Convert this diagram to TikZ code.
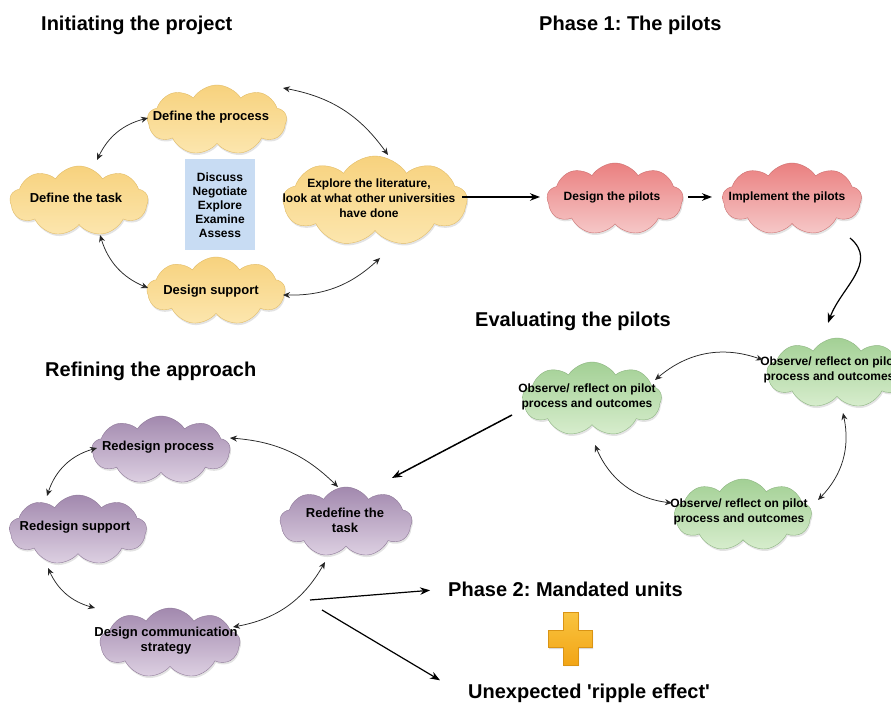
\documentclass[tikz,border=0pt]{standalone}
\usepackage{fontspec}
\setmainfont{Liberation Sans}
\frenchspacing
\usetikzlibrary{shapes.symbols,shadows,arrows.meta}
\definecolor{yeltop}{HTML}{F7D27E}
\definecolor{yelbot}{HTML}{FCE6AE}
\definecolor{yeledge}{HTML}{E2BC66}
\definecolor{redtop}{HTML}{EA8080}
\definecolor{redbot}{HTML}{F6C8C8}
\definecolor{rededge}{HTML}{CC7070}
\definecolor{grntop}{HTML}{A3D095}
\definecolor{grnbot}{HTML}{D7EDCD}
\definecolor{grnedge}{HTML}{8CB480}
\definecolor{purtop}{HTML}{A289AE}
\definecolor{purbot}{HTML}{DDD0E2}
\definecolor{puredge}{HTML}{8E7898}
\definecolor{boxfill}{HTML}{C8DCF3}
\definecolor{plustop}{HTML}{F9C440}
\definecolor{plusbot}{HTML}{F2A516}
\begin{document}
\begin{tikzpicture}[x=1pt,y=1pt,
  cl/.style={cloud, cloud puffs=9, cloud puff arc=115, cloud ignores aspect,
    inner sep=0pt, draw=#1edge, line width=0.4pt, top color=#1top, bottom color=#1bot,
    drop shadow={opacity=0.22, shadow xshift=1pt, shadow yshift=-2pt}},
  ctext/.style={font=\bfseries\fontsize{13}{15}\selectfont, align=center, inner sep=0pt},
  stext/.style={font=\bfseries\fontsize{12}{15}\selectfont, align=center, inner sep=0pt},
  ttl/.style={font=\bfseries\fontsize{20}{24}\selectfont, anchor=base west, inner sep=0pt},
  dbl/.style={{Stealth[length=7pt,width=6pt]}-{Stealth[length=7pt,width=6pt]}, line width=0.75pt, black!85},
  flow/.style={-{Stealth[length=10pt,width=7.5pt]}, line width=1.5pt}]
\useasboundingbox (0,0) rectangle (891,707);
\fill[white] (0,0) rectangle (891,707);

% titles
\node[ttl] (t1) at (41,676) {Initiating the project};
\node[ttl] (t2) at (539,676) {Phase 1: The pilots};
\node[ttl] (t3) at (475,380) {Evaluating the pilots};
\node[ttl] (t4) at (45,330) {Refining the approach};
\node[ttl] (t5) at (448,111) {Phase 2: Mandated units};
\node[ttl] (t6) at (468,9) {Unexpected \textquotesingle ripple effect\textquotesingle};

% initiating
\node[cl=yel, minimum width=139pt, minimum height=70pt,
  label={[ctext,xshift=-6pt,yshift=3pt]center:Define the process}] (dp) at (217,587) {};
\node[cl=yel, minimum width=138pt, minimum height=70pt,
  label={[ctext,xshift=-3pt,yshift=3pt]center:Define the task}] (dt) at (79,506) {};
\node[fill=boxfill, minimum width=70pt, minimum height=91pt, stext,
  font=\bfseries\fontsize{12}{14}\selectfont] (bx) at (220,502) {Discuss\\Negotiate\\Explore\\Examine\\Assess};
\node[cl=yel, minimum width=184pt, minimum height=90pt,
  label={[stext,xshift=-6pt,yshift=3pt]center:{Explore the literature,\\look at what other universities\\have done}}] (ex) at (375,506) {};
\node[cl=yel, minimum width=138pt, minimum height=68pt,
  label={[ctext,xshift=-5pt,yshift=0pt]center:Design support}] (ds) at (216,416) {};

% phase 1
\node[cl=red, minimum width=136pt, minimum height=72pt,
  label={[stext,xshift=-3pt,yshift=2pt]center:Design the pilots}] (dpi) at (615,508) {};
\node[cl=red, minimum width=139pt, minimum height=72pt,
  label={[stext,xshift=-5pt,yshift=2pt]center:Implement the pilots}] (ip) at (792,508) {};

% evaluating
\node[cl=grn, minimum width=139pt, minimum height=74pt,
  label={[stext,xshift=-5pt,yshift=2pt]center:{Observe/ reflect on pilot\\process and outcomes}}] (g1) at (592,308) {};
\node[cl=grn, minimum width=140pt, minimum height=70pt,
  label={[stext,xshift=-8pt,yshift=3pt]center:{Observe/ reflect on pilot\\process and outcomes}}] (g2) at (837,334) {};
\node[cl=grn, minimum width=137pt, minimum height=72pt,
  label={[stext,xshift=-4pt,yshift=3pt]center:{Observe/ reflect on pilot\\process and outcomes}}] (g3) at (743,192) {};

% refining
\node[cl=pur, minimum width=138pt, minimum height=68pt,
  label={[ctext,xshift=-3pt,yshift=3pt]center:Redesign process}] (rp) at (161,257) {};
\node[cl=pur, minimum width=137pt, minimum height=70pt,
  label={[ctext,xshift=-3pt,yshift=3pt]center:Redesign support}] (rs) at (78,177) {};
\node[cl=pur, minimum width=132pt, minimum height=70pt,
  label={[ctext,xshift=-1pt,yshift=2pt]center:{Redefine the\\task}}] (rt) at (346,185) {};
\node[cl=pur, minimum width=140pt, minimum height=70pt,
  label={[ctext,xshift=-4pt,yshift=2pt]center:{Design communication\\strategy}}] (dc) at (170,64) {};

% plus sign
\fill[black, opacity=0.15] (564,41) -- (579,41) -- (579,58) -- (593,58) -- (593,75) -- (579,75) -- (579,93) -- (564,93) -- (564,75) -- (549,75) -- (549,58) -- (564,58) -- cycle;
\shade[top color=plustop, bottom color=plusbot, draw=plusbot!90!black, line width=0.3pt]
  (563,42) -- (578,42) -- (578,60) -- (592,60) -- (592,77) -- (578,77) -- (578,95) -- (563,95) -- (563,77) -- (548,77) -- (548,60) -- (563,60) -- cycle;

% connectors: initiating
\draw[dbl] ([shift={(-69pt,2pt)}]dp.center) to[bend right=25] ([shift={(18pt,41pt)}]dt.center);
\draw[dbl] ([shift={(66pt,32pt)}]dp.center) to[bend left=22] ([shift={(13pt,46pt)}]ex.center);
\draw[dbl] ([shift={(21pt,-34pt)}]dt.center) to[bend right=25] ([shift={(-68pt,3pt)}]ds.center);
\draw[dbl] ([shift={(67pt,-4pt)}]ds.center) to[bend right=22] ([shift={(5pt,-57pt)}]ex.center);
\draw[flow] ([shift={(87pt,4pt)}]ex.center) -- ([shift={(-75pt,2pt)}]dpi.center);
\draw[flow] ([shift={(73pt,2pt)}]dpi.center) -- ([shift={(-80pt,2pt)}]ip.center);
\draw[flow, line width=1.2pt] ([shift={(58pt,-39pt)}]ip.center) to[out=-40,in=70,looseness=1.1] ([shift={(-9pt,50pt)}]g2.center);

% evaluating
\draw[dbl] ([shift={(63pt,19pt)}]g1.center) to[bend left=30] ([shift={(-74pt,13pt)}]g2.center);
\draw[dbl] ([shift={(3pt,-46pt)}]g1.center) to[bend right=30] ([shift={(-71pt,12pt)}]g3.center);
\draw[dbl] ([shift={(6pt,-40pt)}]g2.center) to[bend left=28] ([shift={(75pt,15pt)}]g3.center);
\draw[flow] ([shift={(-80pt,-16pt)}]g1.center) -- ([shift={(46pt,44pt)}]rt.center);

% refining
\draw[dbl] ([shift={(69pt,12pt)}]rp.center) to[bend left=20] ([shift={(-8pt,35pt)}]rt.center);
\draw[dbl] ([shift={(-64pt,2pt)}]rp.center) to[bend right=28] ([shift={(-31pt,34pt)}]rs.center);
\draw[dbl] ([shift={(-30pt,-38pt)}]rs.center) to[bend right=25] ([shift={(-75pt,35pt)}]dc.center);
\draw[dbl] ([shift={(63pt,16pt)}]dc.center) to[bend right=25] ([shift={(-21pt,-40pt)}]rt.center);

% phase 2
\coordinate (o1) at (310,107);
\coordinate (o2) at (322,97);
\draw[flow, line width=1.2pt, shorten >=18pt] (o1) -- (t5.west);
\draw[flow, line width=1.2pt] (o2) -- ([shift={(-28pt,3pt)}]t6.north west);
\end{tikzpicture}
\end{document}
